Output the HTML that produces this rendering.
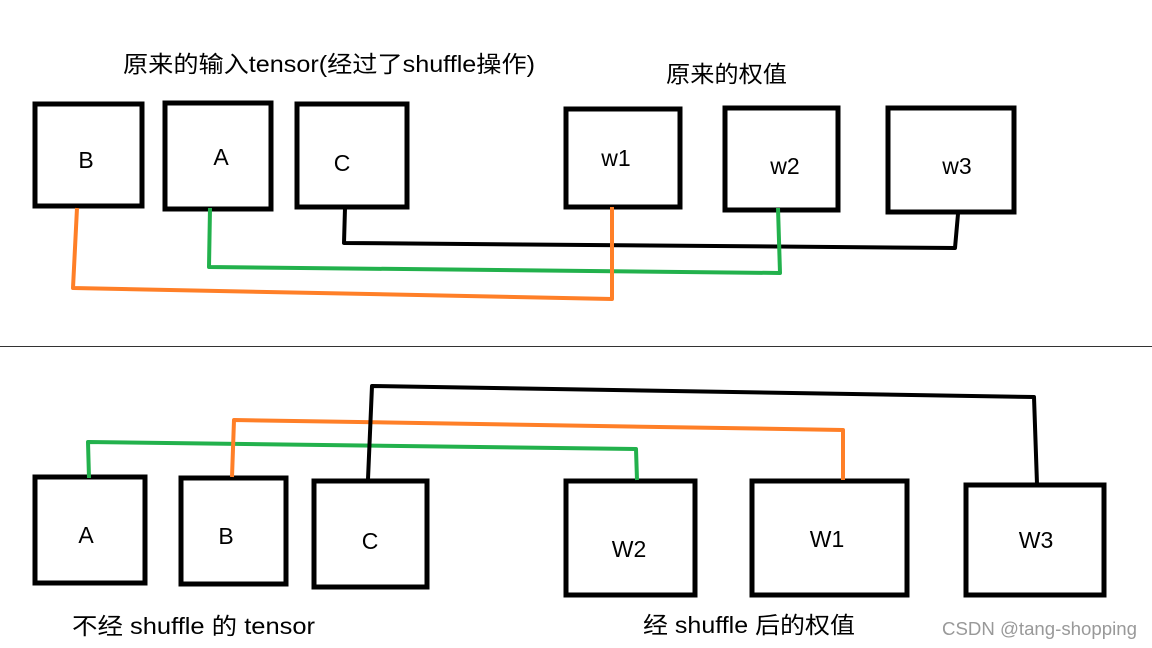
<!DOCTYPE html>
<html><head><meta charset="utf-8"><style>
body{margin:0;background:#fff}
svg{display:block}
text{font-family:"Liberation Sans","Noto Sans CJK SC",sans-serif;fill:#000}
</style></head><body>
<svg width="1152" height="648" viewBox="0 0 1152 648" xmlns="http://www.w3.org/2000/svg">
<g fill="none" stroke="#000" stroke-width="5">
<rect x="35" y="104" width="107" height="102"/>
<rect x="165" y="103" width="106" height="106"/>
<rect x="297" y="104" width="110" height="103"/>
<rect x="566" y="109" width="114" height="98"/>
<rect x="725" y="108" width="113" height="102"/>
<rect x="888" y="108" width="126" height="104"/>
<rect x="35" y="477" width="110" height="106"/>
<rect x="181" y="478" width="105" height="106"/>
<rect x="314" y="481" width="113" height="106"/>
<rect x="566" y="481" width="129" height="114"/>
<rect x="752" y="481" width="155" height="114"/>
<rect x="966" y="485" width="138" height="110"/>
</g>
<g fill="none" stroke-width="4" stroke-linejoin="round">
<polyline stroke="#000" points="345,208 344,243 955,248 958,214"/>
<polyline stroke="#22b14c" points="210,208 209,267 780,273 778,208"/>
<polyline stroke="#ff7f27" points="77,208 73,288 612,299 612,207"/>
<polyline stroke="#22b14c" points="89,478 88,442 636,449 637,480"/>
<polyline stroke="#ff7f27" points="232,477 234,420 843,430 843,480"/>
<polyline stroke="#000" points="368,479 372,386 1034,397 1037,484"/>
</g>
<line x1="0" y1="346.5" x2="1152" y2="346.5" stroke="#333" stroke-width="1"/>
<g font-size="23" text-anchor="middle">
<text x="86" y="168">B</text><text x="221" y="165">A</text><text x="342" y="171">C</text>
<text x="616" y="166">w1</text><text x="785" y="174">w2</text><text x="957" y="174">w3</text>
<text x="86" y="543">A</text><text x="226" y="544">B</text><text x="370" y="549">C</text>
<text x="629" y="557">W2</text><text x="827" y="547">W1</text><text x="1036" y="548">W3</text>
</g>
<g font-size="23" lengthAdjust="spacingAndGlyphs">
<text x="123" y="72" textLength="412" lengthAdjust="spacingAndGlyphs">原来的输入tensor(经过了shuffle操作)</text>
<text x="666" y="82" textLength="121" lengthAdjust="spacingAndGlyphs">原来的权值</text>
<text x="72" y="634" textLength="243" lengthAdjust="spacingAndGlyphs">不经 shuffle 的 tensor</text>
<text x="643" y="633" textLength="212" lengthAdjust="spacingAndGlyphs">经 shuffle 后的权值</text>
</g>
<text x="942" y="635" font-size="18" textLength="195" lengthAdjust="spacingAndGlyphs" style="fill:#999">CSDN @tang-shopping</text>
</svg>
</body></html>
